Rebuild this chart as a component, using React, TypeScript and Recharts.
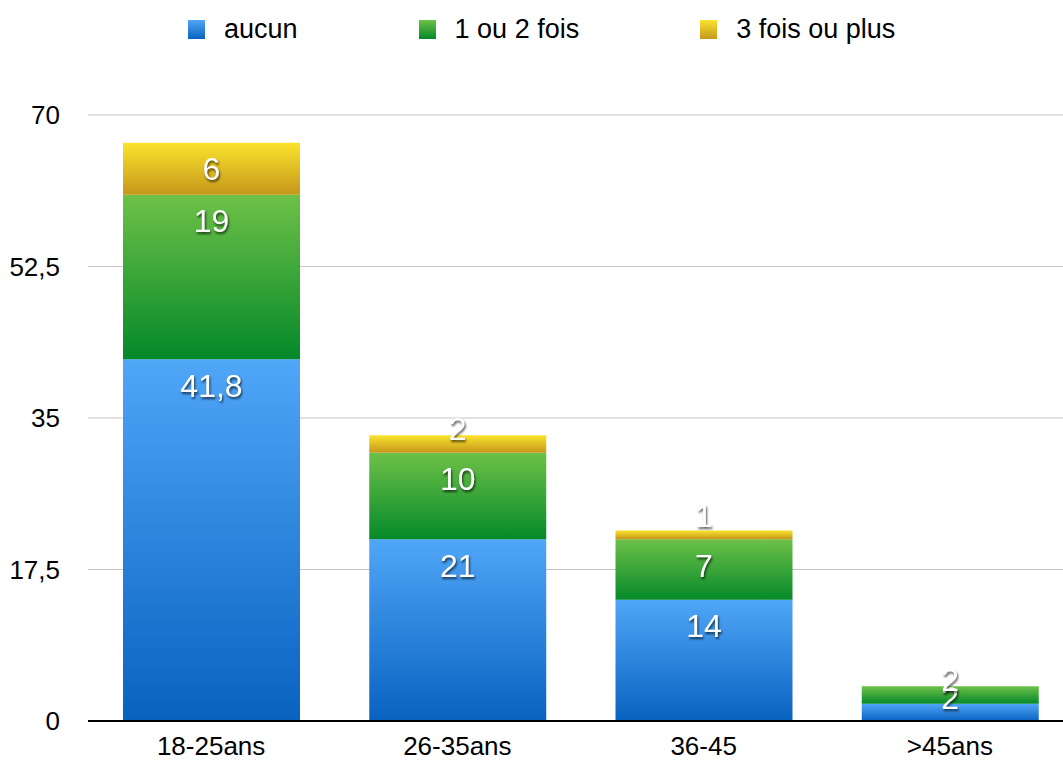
import React from "react";
import { BarChart, Bar, XAxis, YAxis, CartesianGrid, LabelList } from "recharts";

const categories = ["18-25ans", "26-35ans", "36-45", ">45ans"];
const aucun = [41.8, 21, 14, 2];
const uneOuDeux = [19, 10, 7, 2];
const troisOuPlus = [6, 2, 1, 0];
const yTicks = [0, 17.5, 35, 52.5, 70];

const series = [
  { key: "aucun", label: "aucun", top: "#50a6f7", bottom: "#0862c0" },
  { key: "deux", label: "1 ou 2 fois", top: "#6dc147", bottom: "#05892a" },
  { key: "trois", label: "3 fois ou plus", top: "#fae32c", bottom: "#c6971c" },
];

const data = categories.map((c, i) => ({
  name: c,
  aucun: aucun[i],
  deux: uneOuDeux[i],
  trois: troisOuPlus[i],
}));

const FONT = '"Liberation Sans", Arial, Helvetica, sans-serif';
const fmt = (v: number) => String(v).replace(".", ",");

function SegmentLabel(props: any) {
  const { x, y, width, height, value } = props;
  if (!value) return null;
  const cy = Math.min(y + 26, y + height - 24);
  return (
    <text
      x={x + width / 2}
      y={cy}
      dy="0.36em"
      textAnchor="middle"
      fill="#fff"
      fontSize={32}
      fontFamily={FONT}
      style={{ filter: "drop-shadow(1px 2px 1.2px rgba(0,0,0,0.65))" }}
    >
      {fmt(value)}
    </text>
  );
}

function LegendBox() {
  return (
    <div
      style={{
        position: "absolute",
        top: 14,
        left: 188,
        display: "flex",
        alignItems: "center",
        fontFamily: FONT,
        fontSize: 27,
        color: "#000",
        whiteSpace: "nowrap",
      }}
    >
      {series.map((s, i) => (
        <div key={s.key} style={{ display: "flex", alignItems: "center", marginLeft: i === 0 ? 0 : 121 }}>
          <span
            style={{
              display: "inline-block",
              flexShrink: 0,
              width: 17,
              height: 19,
              marginRight: 19,
              background: `linear-gradient(${s.top}, ${s.bottom})`,
            }}
          />
          <span>{s.label}</span>
        </div>
      ))}
    </div>
  );
}

export default function App() {
  return (
    <div style={{ position: "absolute", left: 0, top: 0, width: 1063, height: 760, overflow: "hidden", background: "#fff" }}>
      <LegendBox />
      <BarChart width={1080} height={760} data={data} margin={{ top: 115, right: 7, left: 0, bottom: 0 }} barSize={177}>
        <defs>
          {series.map((s) => (
            <linearGradient key={s.key} id={`grad-${s.key}`} x1="0" y1="0" x2="0" y2="1">
              <stop offset="0%" stopColor={s.top} />
              <stop offset="100%" stopColor={s.bottom} />
            </linearGradient>
          ))}
        </defs>
        <CartesianGrid vertical={false} stroke="#c4c4c4" strokeWidth={1} />
        <XAxis
          dataKey="name"
          height={39}
          tickLine={false}
          tickSize={0}
          tickMargin={16}
          axisLine={{ stroke: "#000", strokeWidth: 2 }}
          tick={{ fontSize: 26, fill: "#000", fontFamily: FONT }}
        />
        <YAxis
          width={88}
          domain={[0, 70]}
          ticks={yTicks}
          tickFormatter={fmt}
          axisLine={false}
          tickLine={false}
          tickSize={0}
          tickMargin={28}
          tick={{ fontSize: 26, fill: "#000", fontFamily: FONT }}
        />
        {series.map((s) => (
          <Bar key={s.key} dataKey={s.key} stackId="a" fill={`url(#grad-${s.key})`} isAnimationActive={false}>
            <LabelList dataKey={s.key} content={SegmentLabel} />
          </Bar>
        ))}
      </BarChart>
    </div>
  );
}
